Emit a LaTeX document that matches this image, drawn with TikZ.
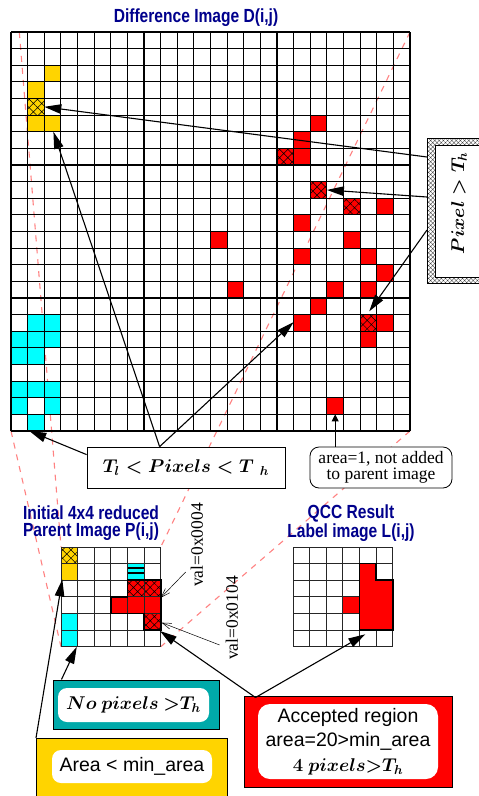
\RequirePackage{fix-cm}
\documentclass[tikz,border=0pt]{standalone}
\usepackage{fontspec}
\usepackage{tikz}
\usetikzlibrary{calc}
\usetikzlibrary{arrows.meta}
\usetikzlibrary{patterns.meta}
\usetikzlibrary{backgrounds}
\setmainfont{Liberation Serif}
\setsansfont{Liberation Sans}
\newfontfamily\narrowsans[FakeStretch=0.82]{Liberation Sans}
\newfontfamily\notefont{Liberation Serif}
\definecolor{titleblue}{RGB}{0,0,140}
\definecolor{cellyellow}{RGB}{255,212,0}
\definecolor{cellcyan}{RGB}{0,255,255}
\definecolor{cellred}{RGB}{255,0,0}
\definecolor{boxteal}{RGB}{0,170,170}
\definecolor{projpink}{RGB}{255,130,130}

\begin{document}
\begin{tikzpicture}[x=1pt,y=-1pt,
  title/.style={font=\narrowsans\bfseries\fontsize{19}{17.5}\selectfont,text=titleblue,align=center},
  proj/.style={draw=projpink,line width=1.1pt,dash pattern=on 6pt off 6pt},
  cellline/.style={line width=1.15pt},
  blockline/.style={line width=1.5pt},
  smallline/.style={line width=0.8pt,draw=black!85},
  hatched/.style={pattern={Hatch[angle=45,distance=5.9pt,line width=0.5pt]},pattern color=black},
  arr/.style={line width=1.1pt,-{Triangle[length=17pt,width=9.5pt]}},
  dotarr/.style={line width=0.9pt,-{Triangle[length=7pt,width=7pt]}},
  valarr/.style={line width=0.5pt,-{Straight Barb[length=9pt,width=6pt]}},
  boldmathtext/.style={font=\boldmath\fontsize{18.5}{20}\selectfont},
  notetext/.style={font=\notefont\fontsize{17.5}{16}\selectfont},
  outerbox/.style={draw,line width=1pt,inner sep=0pt},
  innerbox/.style={fill=white,rounded corners=9pt,inner sep=0pt}]
\useasboundingbox (0,0) rectangle (479,796);

% difference image D(i,j)
\begin{scope}[shift={(11,32)},x=16.625pt,y=-16.625pt]
\foreach \i/\j in {2/2,1/3,1/4,1/5,2/5}
  \fill[cellyellow] (\i,\j) rectangle ++(1,1);
\foreach \i/\j in {1/17,2/17,0/18,1/18,2/18,0/19,1/19,0/21,1/21,2/21,0/22,2/22,1/23}
  \fill[cellcyan] (\i,\j) rectangle ++(1,1);
\foreach \i/\j in {18/5,17/6,16/7,17/7,18/9,20/10,22/10,17/11,12/12,20/12,17/13,21/13,
                   22/14,13/15,19/15,21/15,18/16,17/17,21/17,22/17,21/18,19/22}
  \fill[cellred] (\i,\j) rectangle ++(1,1);
\foreach \i/\j in {1/4,16/7,18/9,20/10,21/17}
  \fill[hatched] (\i,\j) rectangle ++(1,1);
\foreach \k in {0,...,24}
  \draw[cellline] (\k,0) -- (\k,24) (0,\k) -- (24,\k);
\foreach \k in {0,4,...,24}
  \draw[blockline] (\k,0) -- (\k,24) (0,\k) -- (24,\k);
\coordinate (d-nw) at (0.5,0);
\coordinate (d-ne) at (24,0);
\coordinate (d-sw) at (0,24);
\coordinate (d-se) at (24,24);
\coordinate (yhatch) at (2,4.5);
\coordinate (ybottom) at (2.55,6);
\coordinate (rhatch1) at (19,9.5);
\coordinate (rhatch2) at (21.55,16.8);
\coordinate (rleft) at (17,17.45);
\coordinate (cbottom) at (1.1,24);
\coordinate (rsingle) at (19.5,23);
\end{scope}

% reduced parent image P(i,j)
\begin{scope}[shift={(61,547)},x=16.625pt,y=-16.625pt]
\fill[cellyellow] (0,0) rectangle (1,2);
\fill[cellcyan] (0,4) rectangle (1,6);
\fill[cellcyan] (4,1) rectangle (5,2);
\fill[black] (4,1.2) rectangle (5,1.33);
\fill[black] (4,1.5) rectangle (5,1.64);
\foreach \i/\j in {4/2,5/2,3/3,4/3,5/3,5/4}
  \fill[cellred] (\i,\j) rectangle ++(1,1);
\foreach \i/\j in {0/0,4/2,5/2,5/4}
  \fill[hatched] (\i,\j) rectangle ++(1,1);
\foreach \k in {0,...,6}
  \draw[smallline] (\k,0) -- (\k,6) (0,\k) -- (6,\k);
\draw[line width=1.6pt] (4,2) -- (6,2) -- (6,5) -- (5,5) -- (5,4) -- (3,4) -- (3,3) -- (4,3) -- cycle;
\coordinate (p-nw) at (0,0);
\coordinate (p-ne) at (6,0);
\coordinate (p-sw) at (0,6);
\coordinate (p-se) at (6,6);
\coordinate (v4) at (6,3.05);
\coordinate (v104) at (6.05,4.55);
\coordinate (pacc) at (5.95,5.05);
\coordinate (pcyan) at (0.95,6);
\coordinate (pyel) at (0.08,1.95);
\end{scope}

% QCC label image L(i,j)
\begin{scope}[shift={(293,547)},x=16.625pt,y=-16.625pt]
\foreach \k in {0,...,6}
  \draw[smallline] (\k,0) -- (\k,6) (0,\k) -- (6,\k);
\filldraw[fill=cellred,smallline] (3,3) rectangle (4,4);
\filldraw[fill=cellred,line width=1.6pt] (4,1) -- (5,1) -- (5,2) -- (6,2) -- (6,5) -- (4,5) -- cycle;
\coordinate (lacc) at (4.35,5.25);
\end{scope}

\begin{pgfonlayer}{background}
\draw[proj] (d-nw) -- (p-nw);
\draw[proj] (d-ne) -- (p-ne);
\draw[proj] (d-sw) -- (p-sw);
\draw[proj] (d-se) -- (p-se);
\end{pgfonlayer}

\node[title] (dtitle) at (196,17.5) {Difference Image D(i,j)};
\node[title] (ptitle) at (91,523) {Initial 4x4 reduced\\Parent Image P(i,j)};
\node[title] (ltitle) at (351,523) {QCC Result\\Label image L(i,j)};

\node[outerbox,pattern={Hatch[angle=45,distance=3pt,line width=0.35pt]},pattern color=black!75,
      minimum width=73pt,minimum height=145pt,anchor=north west] (pframe) at (427,138) {};
\node[draw,line width=0.8pt,fill=white,inner sep=0pt,minimum width=57pt,minimum height=132pt,
      anchor=north west] (pinner) at (435,145) {};
\node[boldmathtext,rotate=90] (ptext) at (459,203) {$Pixel > T_h$};

\node[outerbox,line width=0.8pt,fill=white,minimum width=198pt,minimum height=41pt,boldmathtext]
  (tbox) at (186,467.5) {$T_l < Pixels < T\;{}_h$};
\node[draw,line width=0.8pt,fill=white,rounded corners=9pt,inner sep=0pt,minimum width=142pt,
      minimum height=41pt,align=center,notetext]
  (abox) at (381,467.5) {{\notefont\fontsize{17.5}{16}\selectfont area=1, not added}\\
                         {\notefont\fontsize{17.5}{16}\selectfont to parent image}};

\node[rotate=90,notetext,inner sep=1pt] (val4) at (197,545) {val=0x0004};
\node[rotate=90,notetext,inner sep=1pt] (val104) at (232,618) {val=0x0104};

\node[outerbox,fill=boxteal,minimum width=166pt,minimum height=49pt] (nbox) at (136,704.5) {};
\node[innerbox,minimum width=151pt,minimum height=34pt,boldmathtext] (ntext) at (133.5,705)
  {$No\ pixels\ {>}T_h$};

\node[outerbox,fill=cellyellow,minimum width=191pt,minimum height=80pt,anchor=north west]
  (ybox) at (36,738) {};
\node[innerbox,minimum width=160pt,minimum height=33pt,font=\sffamily\fontsize{19.5}{20}\selectfont]
  (ytext) at (132,766.5) {Area < min\_area};

\node[outerbox,fill=cellred,minimum width=208pt,minimum height=91pt] (rbox) at (348,741.5) {};
\node[innerbox,rounded corners=12pt,minimum width=180pt,minimum height=75pt,align=center,
      font=\sffamily\fontsize{19.5}{24.5}\selectfont] (rtext) at (348,741.5)
  {Accepted region\\area=20>min\_area\\{\boldmath\fontsize{18.5}{24.5}\selectfont$4\ pixels{>}T_h$}};

\draw[arr] ($(pframe.north west)+(0,19)$) -- (yhatch);
\draw[arr] ($(pframe.north west)+(0,59)$) -- (rhatch1);
\draw[arr] ($(pframe.north west)+(0,92)$) -- (rhatch2);
\draw[arr] ($(tbox.north west)+(73,0)$) -- (ybottom);
\draw[arr] ($(tbox.north west)+(73,0)$) -- (rleft);
\draw[arr] ($(tbox.north west)+(0,8)$) -- (cbottom);
\draw[dotarr] (abox.north -| rsingle) -- (rsingle);
\draw[valarr] ($(val4.north)+(-4,27)$) -- (v4);
\draw[valarr] ($(val104.north)+(-5,27)$) -- (v104);
\draw[arr] ($(rbox.north west)+(12,2)$) -- (pacc);
\draw[arr] ($(rbox.north west)+(12,2)$) -- (lacc);
\draw[arr] ($(nbox.north west)+(9,0)$) -- (pcyan);
\draw[arr] (ybox.north west) -- (pyel);
\end{tikzpicture}
\end{document}
